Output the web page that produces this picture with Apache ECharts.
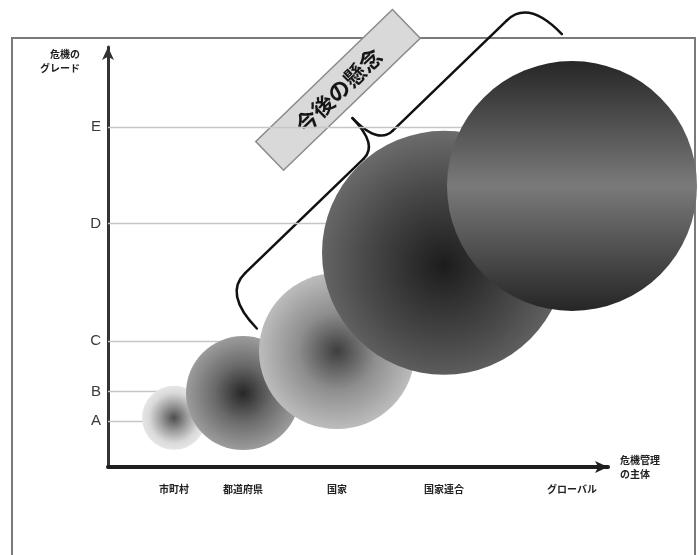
<!DOCTYPE html>
<html>
<head>
<meta charset="utf-8">
<script src="https://cdn.jsdelivr.net/npm/echarts@6/dist/echarts.min.js"></script>
<style>
  html, body { margin: 0; padding: 0; background: #ffffff; }
  #chart { width: 699px; height: 555px; }
</style>
</head>
<body>
<div id="chart"></div>
<script>
// Who manages the crisis (x) versus the crisis grade (y)
const subjects   = ['市町村', '都道府県', '国家', '国家連合', 'グローバル'];
const subjectPos = [13.2, 27, 45.8, 67.2, 92.8];   // position of each subject on the x scale
const severity   = [11.7, 17.6, 27.6, 51, 66.9];   // crisis grade reached by each subject
const scope      = [32, 57, 78, 122, 125];         // extent of the crisis (bubble radius)

// Crisis grade ticks
const grades     = ['A', 'B', 'C', 'D', 'E'];
const gradeLevel = [11, 18, 30, 58, 81];

// "Future concern" brace, in data units: start and end of the brace line, and label centre
const concernText  = '今後の懸念';
const concernStart = [23.1, 41.2];
const concernEnd   = [84.1, 111.3];
const concernBox   = [46, 89.8];

const JP = '"Noto Sans CJK JP", "Noto Sans", sans-serif';

// Shading for each bubble
const fills = [
  { type: 'radial', x: 0.5, y: 0.5, r: 0.5, colorStops: [
    { offset: 0, color: '#4e4e4e' }, { offset: 0.45, color: '#a2a2a2' },
    { offset: 0.78, color: '#d9d9d9' }, { offset: 1, color: '#e6e6e6' } ] },
  { type: 'radial', x: 0.5, y: 0.5, r: 0.5, colorStops: [
    { offset: 0, color: '#262626' }, { offset: 0.5, color: '#6a6a6a' }, { offset: 1, color: '#9c9c9c' } ] },
  { type: 'radial', x: 0.5, y: 0.5, r: 0.5, colorStops: [
    { offset: 0, color: '#3e3e3e' }, { offset: 0.5, color: '#8e8e8e' }, { offset: 1, color: '#bcbcbc' } ] },
  { type: 'radial', x: 0.5, y: 0.55, r: 0.55, colorStops: [
    { offset: 0, color: '#1c1c1c' }, { offset: 0.6, color: '#4a4a4a' }, { offset: 1, color: '#6c6c6c' } ] },
  { type: 'linear', x: 0, y: 0, x2: 0, y2: 1, colorStops: [
    { offset: 0, color: '#262626' }, { offset: 0.5, color: '#7a7a7a' }, { offset: 1, color: '#262626' } ] }
];

function nearestIndex(arr, v) {
  let best = 0;
  arr.forEach((a, i) => { if (Math.abs(a - v) < Math.abs(arr[best] - v)) best = i; });
  return best;
}

const chart = echarts.init(document.getElementById('chart'), null, { renderer: 'canvas' });

chart.setOption({
  animation: false,
  backgroundColor: '#ffffff',
  grid: { left: 108, right: 91, top: 47, bottom: 88, outerBoundsMode: 'none' },
  xAxis: {
    type: 'value', min: 0, max: 100,
    name: '危機管理\nの主体', nameLocation: 'end', nameGap: 12,
    nameTextStyle: { fontFamily: JP, fontSize: 10, fontWeight: 'bold', color: '#222',
      lineHeight: 14, align: 'left', verticalAlign: 'middle', padding: [0, 0, 18, 0] },
    axisLine: { show: true, onZero: false, symbol: ['none', 'arrow'], symbolSize: [9, 13],
      lineStyle: { color: '#1e1e1e', width: 4 } },
    axisTick: { show: false },
    splitLine: { show: false },
    axisLabel: {
      customValues: subjectPos, margin: 17,
      fontFamily: JP, fontSize: 10, fontWeight: 'bold', color: '#222',
      formatter: v => subjects[nearestIndex(subjectPos, v)]
    }
  },
  yAxis: {
    type: 'value', min: 0, max: 100,
    name: '危機の\nグレード', nameLocation: 'end', nameGap: 0,
    nameTextStyle: { fontFamily: JP, fontSize: 10, fontWeight: 'bold', color: '#222',
      lineHeight: 14, align: 'right', verticalAlign: 'top', padding: [0, 28, 0, 0] },
    axisLine: { show: true, onZero: false, symbol: ['none', 'arrow'], symbolSize: [9, 13],
      lineStyle: { color: '#333', width: 3 } },
    axisTick: { show: false },
    splitLine: { show: false },
    axisLabel: {
      customValues: gradeLevel, margin: 7,
      fontFamily: '"Liberation Sans", Arial, sans-serif', fontSize: 15, color: '#3a3a3a',
      formatter: v => grades[nearestIndex(gradeLevel, v)]
    }
  },
  series: [
    {
      // Grade guide lines, each running to the bubble that reaches that grade
      type: 'line', data: [], z: 1, silent: true,
      markLine: {
        z: 1, silent: true, symbol: ['none', 'none'], animation: false,
        label: { show: false },
        lineStyle: { color: '#c6c6c6', width: 1.3, type: 'solid' },
        data: gradeLevel.map((g, i) => [{ coord: [0, g] }, { coord: [subjectPos[i], g] }])
      }
    },
    {
      type: 'scatter', z: 3, silent: true,
      symbolSize: v => v[2] * 2,
      data: subjectPos.map((x, i) => ({
        value: [x, severity[i], scope[i]],
        itemStyle: { color: fills[i], opacity: 1 }
      }))
    }
  ]
});

// Page frame and the "future concern" annotation
function drawAnnotations() {
  const s = chart.convertToPixel({ gridIndex: 0 }, concernStart);
  const e = chart.convertToPixel({ gridIndex: 0 }, concernEnd);
  const c = chart.convertToPixel({ gridIndex: 0 }, concernBox);
  const L = Math.hypot(e[0] - s[0], e[1] - s[1]);
  const rot = Math.atan2(s[1] - e[1], e[0] - s[0]);
  const N = L * 0.507, hook = 48, nose = 37, bend = 30, tip = 20;
  const ink = { fill: null, stroke: '#111', lineWidth: 2.5, lineCap: 'round' };
  const curve = (x1, y1, cx, cy, x2, y2) => ({
    type: 'bezierCurve', shape: { x1, y1, cpx1: cx, cpy1: cy, x2, y2 }, style: ink
  });
  const seg = (x1, y1, x2, y2) => ({ type: 'line', shape: { x1, y1, x2, y2 }, style: ink });

  chart.setOption({
    graphic: [
      {
        type: 'polyline', z: 0, silent: true,
        shape: { points: [[12, 555], [12, 38], [695, 38], [695, 555]] },
        style: { fill: null, stroke: '#7a7a7a', lineWidth: 2 }
      },
      {
        type: 'group', x: s[0], y: s[1], rotation: rot, z: 100, silent: true,
        children: [
          curve(0, hook, 0, 0, bend, 0),
          seg(bend, 0, N - tip, 0),
          curve(N - tip, 0, N, 0, N, -nose),
          curve(N, -nose, N, 0, N + tip, 0),
          seg(N + tip, 0, L - bend, 0),
          curve(L - bend, 0, L, 0, L, hook)
        ]
      },
      {
        type: 'group', x: c[0], y: c[1], rotation: rot, z: 101, silent: true,
        children: [
          {
            type: 'rect', shape: { x: -95, y: -20, width: 190, height: 40 },
            style: { fill: '#d9d9d9', stroke: '#8a8a8a', lineWidth: 1.5 }
          },
          {
            type: 'text',
            style: { text: concernText, x: 0, y: 1, align: 'center', verticalAlign: 'middle',
              fontFamily: JP, fontSize: 22, fontWeight: 'bold', fill: '#161616' }
          }
        ]
      }
    ]
  });
}
drawAnnotations();
</script>
</body>
</html>
